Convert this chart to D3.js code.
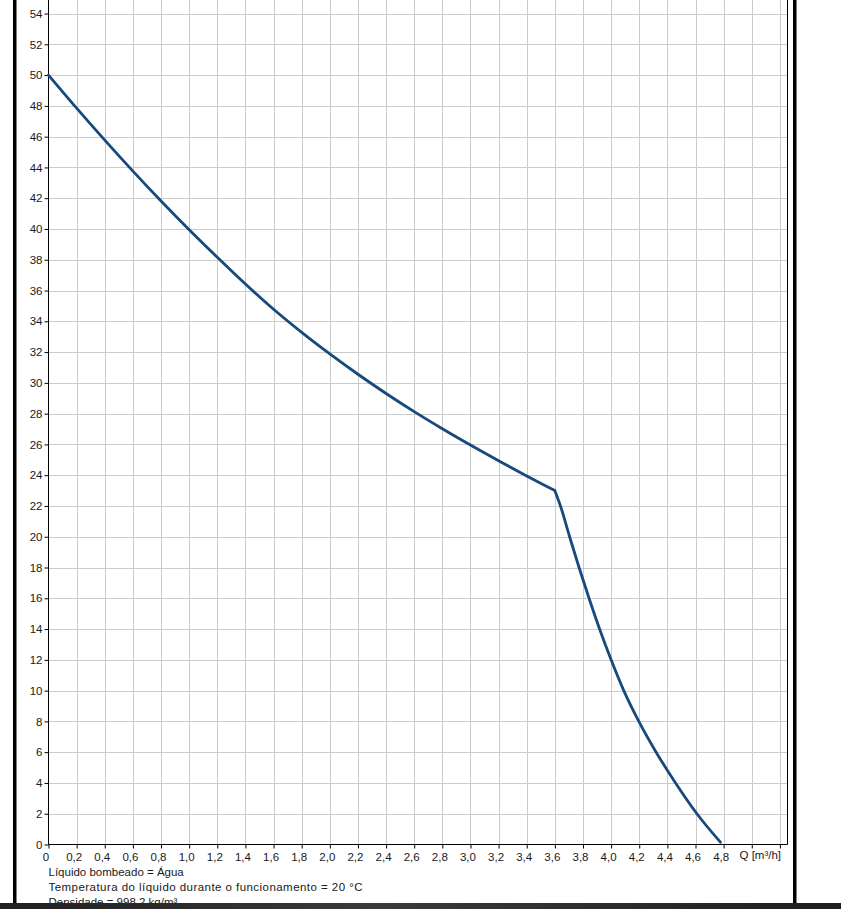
<!DOCTYPE html>
<html>
<head>
<meta charset="utf-8">
<script src="https://cdn.jsdelivr.net/npm/d3@7"></script>
<style>
  html, body { margin: 0; padding: 0; background: #fff; }
  svg { display: block; }
  text { font-family: "Liberation Sans", Arial, sans-serif; fill: #1a1a1a; }
</style>
</head>
<body>
<svg id="chart" width="841" height="909"></svg>
<script>
// ---- data ----
// upper branch of the pump curve (up to the knee at Q = 3.6)
const flowQ1 = [0, 0.2, 0.4, 0.6, 0.8, 1.0, 1.2, 1.4, 1.6, 1.8, 2.0, 2.2, 2.4, 2.6, 2.8, 3.0, 3.2, 3.4, 3.6];
const headH1 = [50, 47.85, 45.77, 43.76, 41.82, 39.95, 38.16, 36.42, 34.78, 33.28, 31.88, 30.56, 29.31, 28.13, 27.02, 25.96, 24.94, 23.95, 23.0];
// steep branch after the knee
const flowQ2 = [3.6, 3.64, 3.705, 3.772, 3.843, 3.918, 4.0, 4.09, 4.197, 4.32, 4.458, 4.61, 4.777];
const headH2 = [23.0, 22, 20, 18, 16, 14, 12, 10, 8, 6, 4, 2, 0.15];

const xGridValues = [0, 0.2, 0.4, 0.6, 0.8, 1.0, 1.2, 1.4, 1.6, 1.8, 2.0, 2.2, 2.4, 2.6, 2.8, 3.0, 3.2, 3.4, 3.6, 3.8, 4.0, 4.2, 4.4, 4.6, 4.8, 5.0, 5.2];
const xTickLabels = ["0", "0,2", "0,4", "0,6", "0,8", "1,0", "1,2", "1,4", "1,6", "1,8", "2,0", "2,2", "2,4", "2,6", "2,8",
                     "3,0", "3,2", "3,4", "3,6", "3,8", "4,0", "4,2", "4,4", "4,6", "4,8"];
const yTickValues = [0, 2, 4, 6, 8, 10, 12, 14, 16, 18, 20, 22, 24, 26, 28, 30, 32, 34, 36, 38, 40, 42, 44, 46, 48, 50, 52, 54];
const xAxisTitle = "Q [m³/h]";
const infoLines = ["Líquido bombeado = Água",
                   "Temperatura do líquido durante o funcionamento = 20 °C",
                   "Densidade = 998,2 kg/m³"];

// ---- layout ----
const svg = d3.select("#chart");
const pLeft = 48.5, pRight = 787.5, pTop = 0, pBottom = 844.5;
const x = d3.scaleLinear().domain([0, 5.254]).range([pLeft, pRight]);
const y = d3.scaleLinear().domain([0, 54.88]).range([pBottom, pTop]);

// gradient for the bottom band
const defs = svg.append("defs");
const grad = defs.append("linearGradient").attr("id", "band").attr("x1", "0").attr("x2", "1");
grad.append("stop").attr("offset", "0").attr("stop-color", "#202020");
grad.append("stop").attr("offset", "0.45").attr("stop-color", "#3a3a3a");
grad.append("stop").attr("offset", "1").attr("stop-color", "#1e1e1e");

// grid
const grid = svg.append("g").attr("stroke", "#cbcbcb").attr("stroke-width", 1);
grid.selectAll("line.v").data(xGridValues.slice(1)).join("line")
  .attr("x1", d => Math.round(x(d)) + 0.5).attr("x2", d => Math.round(x(d)) + 0.5)
  .attr("y1", pTop).attr("y2", pBottom);
grid.selectAll("line.h").data(yTickValues.slice(1)).join("line")
  .attr("x1", pLeft).attr("x2", pRight)
  .attr("y1", d => Math.round(y(d)) + 0.5).attr("y2", d => Math.round(y(d)) + 0.5);

// right frame line
svg.append("line").attr("x1", pRight).attr("x2", pRight).attr("y1", pTop).attr("y2", pBottom)
  .attr("stroke", "#000").attr("stroke-width", 1);

// y axis
const yAxis = d3.axisLeft(y).tickValues(yTickValues).tickSize(4).tickPadding(2).tickFormat(d3.format("d"));
const gy = svg.append("g").attr("transform", `translate(${pLeft},0)`).call(yAxis);
gy.select(".domain").attr("stroke", "#000").attr("d", `M0,${pTop}V${pBottom}`);
gy.selectAll(".tick line").attr("stroke", "#000");
gy.selectAll(".tick text").style("font-size", "11.5px").attr("fill", "#1a1a1a");

// x axis
const xAxis = d3.axisBottom(x).tickValues(xGridValues).tickSize(4).tickPadding(4)
  .tickFormat((d, i) => i < xTickLabels.length ? xTickLabels[i] : "");
const gx = svg.append("g").attr("transform", `translate(0,${pBottom})`).call(xAxis);
gx.select(".domain").attr("stroke", "#000").attr("d", `M${pLeft},0H${pRight}`);
gx.selectAll(".tick line").attr("stroke", "#000");
gx.selectAll(".tick text").style("font-size", "11.5px").attr("dx", "-3").attr("fill", "#1a1a1a");

svg.append("text").attr("x", 739.5).attr("y", 858.5).style("font-size", "11.5px").text(xAxisTitle);

// curve (two smooth branches meeting at the knee)
const line = d3.line().x(d => x(d[0])).y(d => y(d[1])).curve(d3.curveMonotoneX);
const seg1 = flowQ1.map((q, i) => [q, headH1[i]]);
const seg2 = flowQ2.map((q, i) => [q, headH2[i]]);
svg.append("path")
  .attr("fill", "none").attr("stroke", "#174a7c").attr("stroke-width", 2.8)
  .attr("stroke-linejoin", "round").attr("stroke-linecap", "round")
  .attr("d", line(seg1) + line(seg2));

// info text
svg.selectAll("text.info").data(infoLines).join("text")
  .attr("class", "info")
  .attr("x", 48.5)
  .attr("y", (d, i) => 875.5 + i * 15)
  .style("font-size", "11.5px")
  .each(function (d, i) {
    const t = d3.select(this).text(d);
    if (i === 1) t.attr("textLength", 314).attr("lengthAdjust", "spacing");
  });

// side bars
svg.append("rect").attr("x", 13).attr("y", 0).attr("width", 3.5).attr("height", 903).attr("fill", "#000");
svg.append("rect").attr("x", 793).attr("y", 0).attr("width", 3.5).attr("height", 903).attr("fill", "#000");

// bottom band
svg.append("rect").attr("x", 0).attr("y", 903).attr("width", 841).attr("height", 6).attr("fill", "url(#band)");
</script>
</body>
</html>
